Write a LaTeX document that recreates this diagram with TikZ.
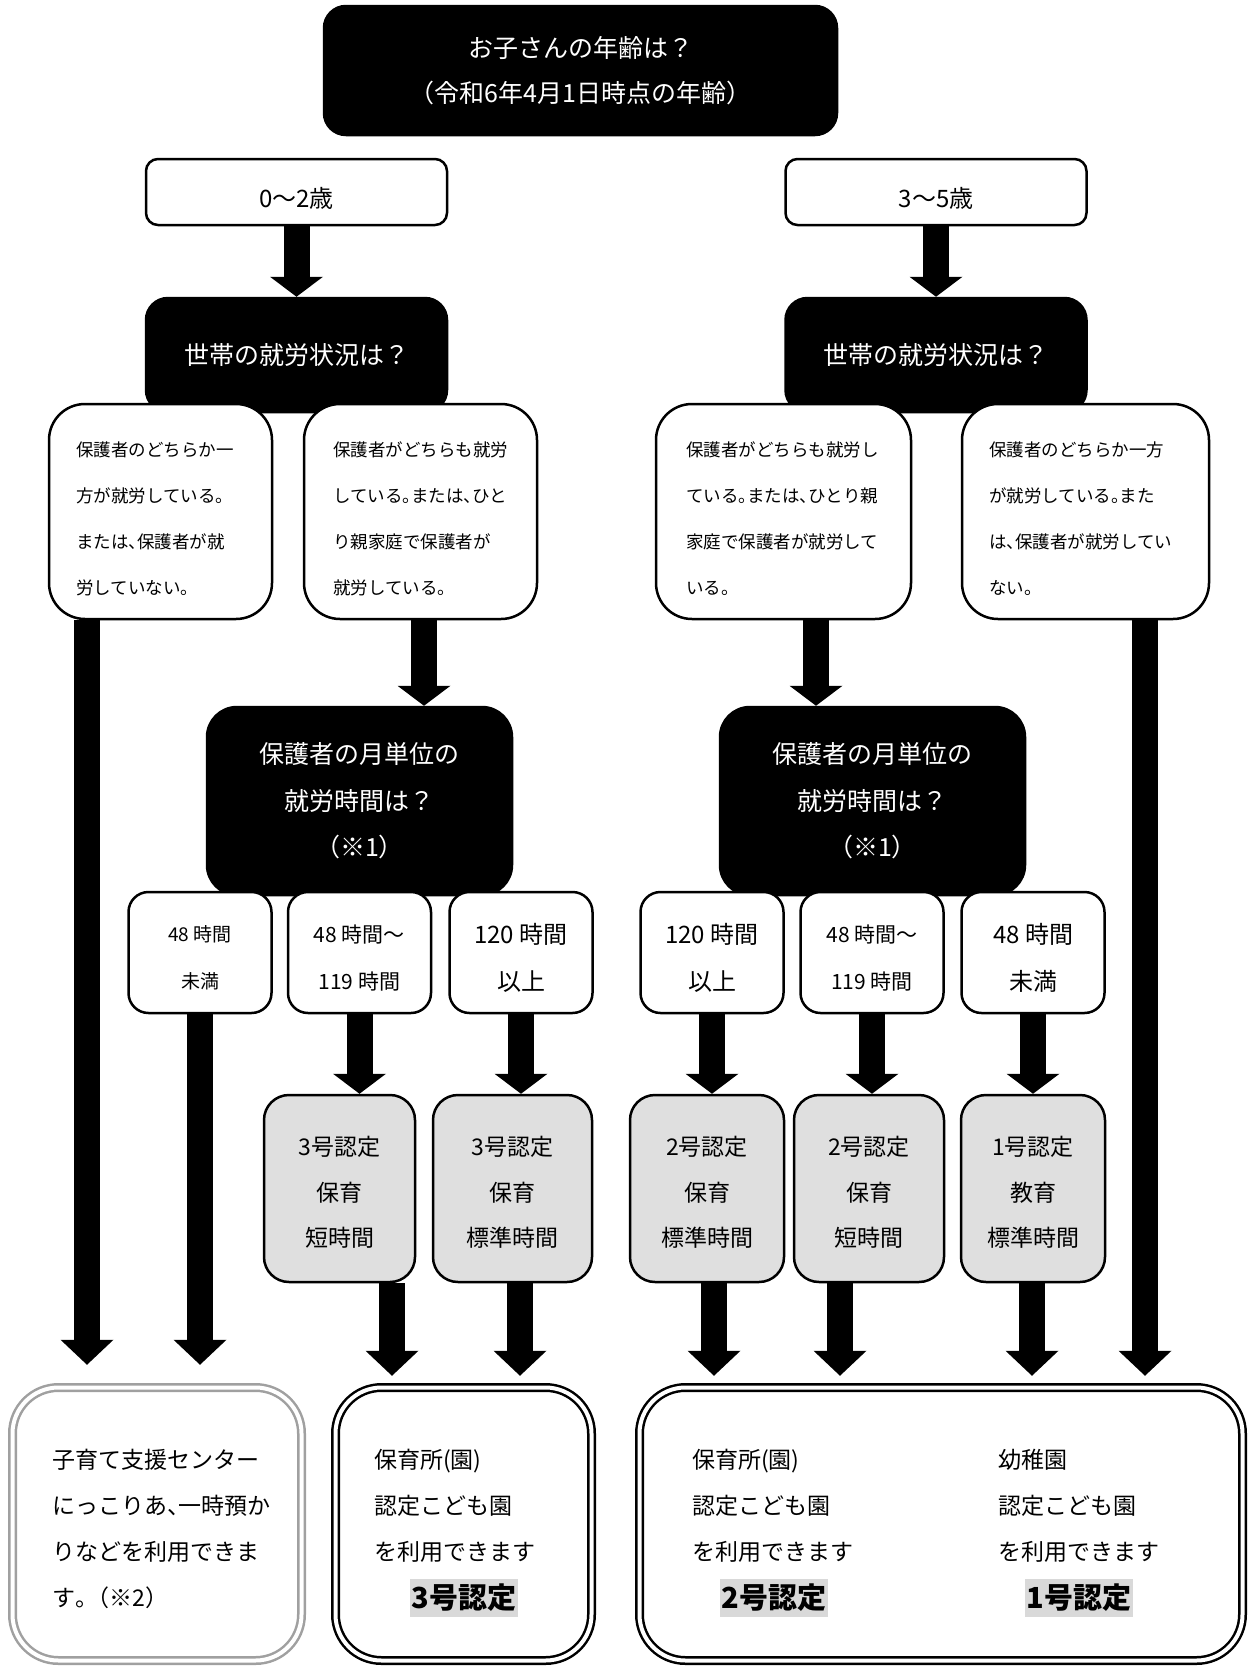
\documentclass[tikz,border=0pt]{standalone}
\usepackage{fontspec}
\setmainfont{Noto Sans CJK JP}
\usetikzlibrary{arrows.meta}
\definecolor{boxgray}{HTML}{DFDFDF}
\definecolor{hlgray}{HTML}{D9D9D9}
\definecolor{framegray}{HTML}{A0A0A0}
\newcommand\fsz[2]{\fontsize{#1}{#2}\selectfont}
\newcommand\hp[1]{\makebox[0.5em][l]{#1}}
\begin{document}
\begin{tikzpicture}[x=1pt,y=-1pt,
  base/.style={rectangle, inner sep=0pt, align=center, line width=2.5pt},
  darkbox/.style={base, draw=black, fill=black, text=white},
  whitebox/.style={base, draw=black, fill=white},
  graybox/.style={base, draw=black, fill=boxgray, rounded corners=25pt, minimum height=187pt},
  smallbox/.style={whitebox, rounded corners=20pt, minimum width=143pt, minimum height=121pt},
  textbox/.style={whitebox, rounded corners=36pt, minimum height=215pt},
  dblbox/.style={base, draw=#1, double=white, double distance=4pt, line width=2.5pt, rounded corners=46pt, minimum height=273pt},
  blk/.style={line width=26pt, draw=black, -{Triangle[length=20pt,width=53pt,line width=0pt]}},
  blkL/.style={line width=26pt, draw=black, -{Triangle[length=25pt,width=53pt,line width=0pt]}},
  txt/.style={anchor=west, inner sep=0pt, align=left},
  lbl/.style={inner sep=0pt, align=center},
  hl/.style={fill=hlgray, inner sep=0pt, minimum width=108pt, minimum height=38pt, font=\fsz{29}{29}\bfseries},
]
\fill[white] (0,0) rectangle (1251,1668);
\useasboundingbox (0,0) rectangle (1251,1668);

% top
\node[darkbox, rounded corners=22pt, minimum width=513pt, minimum height=129pt, font=\fsz{25}{45}] (top) at (580.5,70.5) {お子さんの年齢は？\\（令和6年4月1日時点の年齢）};

% age boxes
\node[whitebox, rounded corners=12pt, minimum width=301pt, minimum height=66pt] (ageL) at (296.5,192) {};
\node[whitebox, rounded corners=12pt, minimum width=301pt, minimum height=66pt] (ageR) at (936,192) {};
\node[lbl, font=\fsz{24}{24}] (ageLt) at ([yshift=-6pt]ageL.center) {0～2歳};
\node[lbl, font=\fsz{24}{24}] (ageRt) at ([yshift=-6pt]ageR.center) {3～5歳};

% household
\node[darkbox, rounded corners=22pt, minimum width=301pt, minimum height=114pt, font=\fsz{25}{25}] (hhL) at (296.5,355) {世帯の就労状況は？};
\node[darkbox, rounded corners=22pt, minimum width=301pt, minimum height=114pt, font=\fsz{25}{25}] (hhR) at (936,355) {世帯の就労状況は？};

% white text boxes
\node[textbox, minimum width=223pt] (wL1) at (160.5,511.5) {};
\node[textbox, minimum width=233pt] (wL2) at (420.5,511.5) {};
\node[textbox, minimum width=255pt] (wR1) at (783.5,511.5) {};
\node[textbox, minimum width=247pt] (wR2) at (1085.5,511.5) {};
\node[txt, font=\fsz{17.5}{46}] (tL1) at (76,519) {保護者のどちらか一\\方が就労している\hp{。}\\または\hp{、}保護者が就\\労していない\hp{。}};
\node[txt, font=\fsz{17.5}{46}] (tL2) at (333,519) {保護者がどちらも就労\\している\hp{。}または\hp{、}ひと\\り親家庭で保護者が\\就労している\hp{。}};
\node[txt, font=\fsz{17.5}{46}] (tR1) at (686,519) {保護者がどちらも就労し\\ている\hp{。}または\hp{、}ひとり親\\家庭で保護者が就労して\\いる\hp{。}};
\node[txt, font=\fsz{17.5}{46}] (tR2) at (989,519) {保護者のどちらか一方\\が就労している\hp{。}また\\は\hp{、}保護者が就労してい\\ない\hp{。}};

% hours question
\node[darkbox, rounded corners=30pt, minimum width=305pt, minimum height=188pt, font=\fsz{25}{46.5}] (qL) at (359.5,801) {保護者の月単位の\\就労時間は？\\（※1）};
\node[darkbox, rounded corners=30pt, minimum width=305pt, minimum height=188pt, font=\fsz{25}{46.5}] (qR) at (872.5,801) {保護者の月単位の\\就労時間は？\\（※1）};

% small boxes
\node[smallbox] (sL1) at (200,952.5) {};
\node[smallbox] (sL2) at (359.5,952.5) {};
\node[smallbox] (sL3) at (521,952.5) {};
\node[smallbox] (sR1) at (712,952.5) {};
\node[smallbox] (sR2) at (872,952.5) {};
\node[smallbox] (sR3) at (1033,952.5) {};
\node[lbl, font=\fsz{19}{47}] (sL1t) at ([yshift=-5.5pt]sL1.center) {48 時間\\未満};
\node[lbl, font=\fsz{21}{47}] (sL2t) at ([yshift=-5.5pt]sL2.center) {48 時間～\\119 時間};
\node[lbl, font=\fsz{24}{47}] (sL3t) at ([yshift=-5.5pt]sL3.center) {120 時間\\以上};
\node[lbl, font=\fsz{24}{47}] (sR1t) at ([yshift=-5.5pt]sR1.center) {120 時間\\以上};
\node[lbl, font=\fsz{21}{47}] (sR2t) at ([yshift=-5.5pt]sR2.center) {48 時間～\\119 時間};
\node[lbl, font=\fsz{24}{47}] (sR3t) at ([yshift=-5.5pt]sR3.center) {48 時間\\未満};

% gray boxes
\node[graybox, minimum width=151pt] (gL1) at (339.5,1188.5) {};
\node[graybox, minimum width=159pt] (gL2) at (512.5,1188.5) {};
\node[graybox, minimum width=154pt] (gR1) at (707,1188.5) {};
\node[graybox, minimum width=150pt] (gR2) at (869,1188.5) {};
\node[graybox, minimum width=144pt] (gR3) at (1033,1188.5) {};
\node[lbl, font=\fsz{23}{45.5}] (gL1t) at ([yshift=-4pt]gL1.center) {3号認定\\保育\\短時間};
\node[lbl, font=\fsz{23}{45.5}] (gL2t) at ([yshift=-4pt]gL2.center) {3号認定\\保育\\標準時間};
\node[lbl, font=\fsz{23}{45.5}] (gR1t) at ([yshift=-4pt]gR1.center) {2号認定\\保育\\標準時間};
\node[lbl, font=\fsz{23}{45.5}] (gR2t) at ([yshift=-4pt]gR2.center) {2号認定\\保育\\短時間};
\node[lbl, font=\fsz{23}{45.5}] (gR3t) at ([yshift=-4pt]gR3.center) {1号認定\\教育\\標準時間};

% bottom boxes
\node[dblbox=framegray, minimum width=289pt] (bL) at (157,1524) {};
\node[dblbox=black, minimum width=256pt] (b3) at (463.5,1524) {};
\node[dblbox=black, minimum width=603pt] (b12) at (941,1524) {};
\node[txt, font=\fsz{23}{46}] (tBL) at (52,1529) {子育て支援センター\\にっこりあ\hp{、}一時預か\\りなどを利用できま\\す\hp{。}（※2）};
\node[txt, font=\fsz{23}{46}] (tB3) at (374,1506) {保育所(園)\\認定こども園\\を利用できます};
\node[hl] (hB3) at (464,1598) {3号認定};
\node[txt, font=\fsz{23}{46}] (tB2) at (692,1506) {保育所(園)\\認定こども園\\を利用できます};
\node[hl] (hB2) at (774,1598) {2号認定};
\node[txt, font=\fsz{23}{46}] (tB1) at (998,1506) {幼稚園\\認定こども園\\を利用できます};
\node[hl] (hB1) at (1079,1598) {1号認定};

% column helpers
\coordinate (x87) at (87,0);
\coordinate (x424) at (424,0);
\coordinate (x816) at (816,0);
\coordinate (x1145) at (1145,0);
\coordinate (x392) at (392,0);
\coordinate (x520) at (520,0);
\coordinate (x714) at (714,0);
\coordinate (x840) at (840,0);
\coordinate (x1032) at (1032,0);

% arrows
\draw[blk] (ageL.south) -- (hhL.north);
\draw[blk] (ageR.south) -- (hhR.north);
\draw[blkL, shorten >=21.5pt] (wL1.south -| x87) -- (bL.north -| x87);
\draw[blk] (wL2.south -| x424) -- (qL.north -| x424);
\draw[blk] (wR1.south -| x816) -- (qR.north -| x816);
\draw[blkL, shorten >=10.5pt] (wR2.south -| x1145) -- (b12.north -| x1145);
\draw[blkL, shorten >=21.5pt] (sL1.south) -- (sL1.south |- bL.north);
\draw[blk] (sL2.south) -- (sL2.south |- gL1.north);
\draw[blk] (sL3.south) -- (sL3.south |- gL2.north);
\draw[blk] (sR1.south) -- (sR1.south |- gR1.north);
\draw[blk] (sR2.south) -- (sR2.south |- gR2.north);
\draw[blk] (sR3.south) -- (gR3.north);
\draw[blkL, shorten >=10.5pt] (gL1.south -| x392) -- (b3.north -| x392);
\draw[blkL, shorten >=10.5pt] (gL2.south -| x520) -- (b3.north -| x520);
\draw[blkL, shorten >=10.5pt] (gR1.south -| x714) -- (b12.north -| x714);
\draw[blkL, shorten >=10.5pt] (gR2.south -| x840) -- (b12.north -| x840);
\draw[blkL, shorten >=10.5pt] (gR3.south -| x1032) -- (b12.north -| x1032);
\end{tikzpicture}
\end{document}
